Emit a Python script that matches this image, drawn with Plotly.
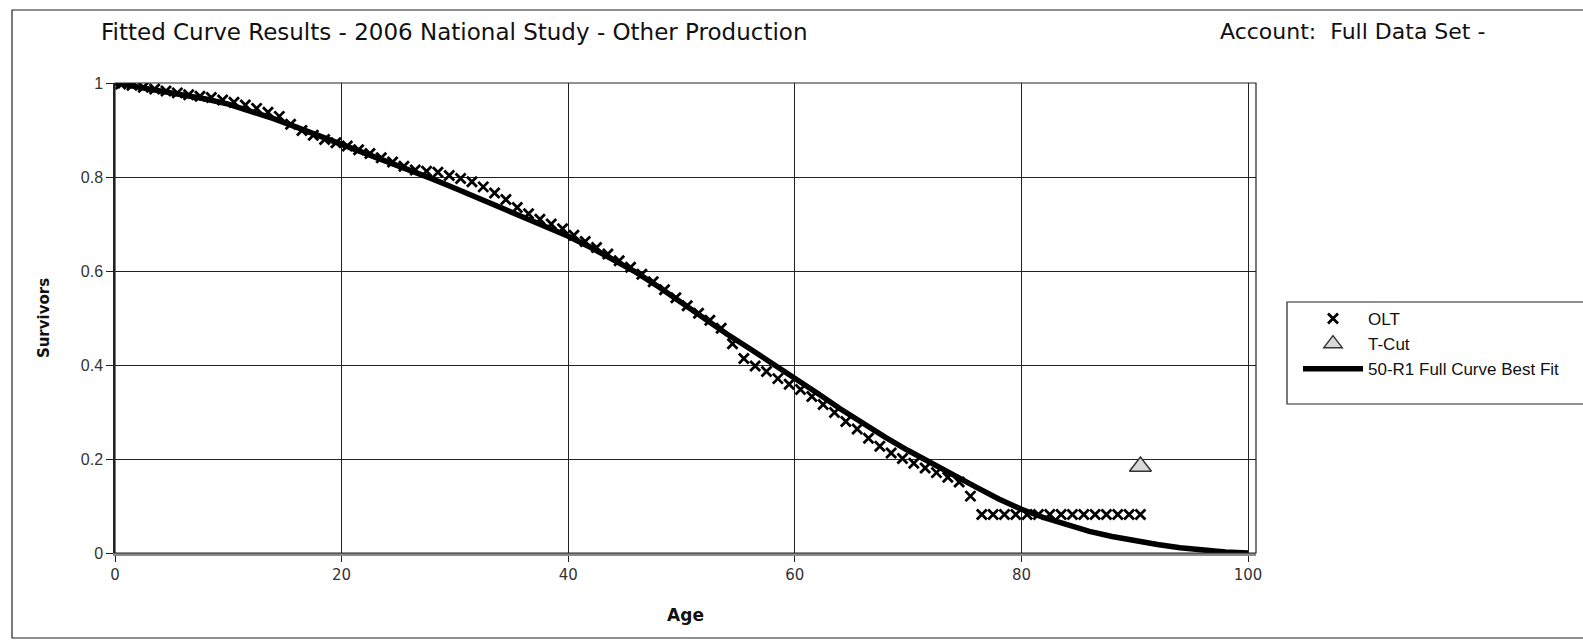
import plotly.graph_objects as go

# ---------------- data ----------------
olt_age = [0, 0.5, 1.5, 2.5, 3.5, 4.5, 5.5, 6.5, 7.5, 8.5, 9.5, 10.5, 11.5, 12.5, 13.5, 14.5,
           15.5, 16.5, 17.5, 18.5, 19.5, 20.5, 21.5, 22.5, 23.5, 24.5, 25.5, 26.5, 27.5, 28.5,
           29.5, 30.5, 31.5, 32.5, 33.5, 34.5, 35.5, 36.5, 37.5, 38.5, 39.5, 40.5, 41.5, 42.5,
           43.5, 44.5, 45.5, 46.5, 47.5, 48.5, 49.5, 50.5, 51.5, 52.5, 53.5, 54.5, 55.5, 56.5,
           57.5, 58.5, 59.5, 60.5, 61.5, 62.5, 63.5, 64.5, 65.5, 66.5, 67.5, 68.5, 69.5, 70.5,
           71.5, 72.5, 73.5, 74.5, 75.5, 76.5, 77.5, 78.5, 79.5, 80.5, 81.5, 82.5, 83.5, 84.5,
           85.5, 86.5, 87.5, 88.5, 89.5, 90.5]
olt_surv = [1.000, 0.998, 0.995, 0.991, 0.987, 0.983, 0.979, 0.975, 0.972, 0.969, 0.964, 0.959,
            0.953, 0.946, 0.938, 0.929, 0.912, 0.899, 0.889, 0.880, 0.873, 0.866, 0.858, 0.850,
            0.841, 0.832, 0.823, 0.815, 0.812, 0.810, 0.803, 0.797, 0.790, 0.779, 0.766, 0.752,
            0.735, 0.722, 0.710, 0.700, 0.690, 0.676, 0.663, 0.650, 0.636, 0.622, 0.608, 0.593,
            0.577, 0.560, 0.543, 0.526, 0.510, 0.495, 0.478, 0.445, 0.414, 0.398, 0.386, 0.371,
            0.359, 0.348, 0.333, 0.316, 0.299, 0.280, 0.264, 0.244, 0.227, 0.213, 0.201, 0.191,
            0.181, 0.171, 0.161, 0.151, 0.121, 0.082, 0.082, 0.082, 0.082, 0.082, 0.082, 0.082,
            0.082, 0.082, 0.082, 0.082, 0.082, 0.082, 0.082, 0.082]

tcut_age = [90.5]
tcut_surv = [0.184]

fit_age = [0, 2, 4, 6, 8, 10, 12, 14, 16, 18, 20, 22, 24, 26, 28, 30, 32, 34, 36, 38, 40, 42,
           44, 46, 48, 50, 52, 54, 56, 58, 60, 62, 64, 66, 68, 70, 72, 74, 76, 78, 80, 82, 84,
           86, 88, 90, 92, 94, 96, 98, 100]
fit_surv = [1.000, 0.992, 0.984, 0.975, 0.966, 0.955, 0.941, 0.924, 0.906, 0.888, 0.870, 0.852,
            0.834, 0.816, 0.796, 0.776, 0.756, 0.736, 0.716, 0.695, 0.674, 0.650, 0.624, 0.597,
            0.566, 0.532, 0.499, 0.466, 0.435, 0.404, 0.372, 0.340, 0.307, 0.276, 0.246, 0.218,
            0.191, 0.165, 0.140, 0.115, 0.093, 0.075, 0.059, 0.046, 0.035, 0.026, 0.018, 0.011,
            0.006, 0.002, 0.000]

x_ticks = [0, 20, 40, 60, 80, 100]
y_ticks = [0, 0.2, 0.4, 0.6, 0.8, 1]
y_tick_text = ["0", "0.2", "0.4", "0.6", "0.8", "1"]

title_text = "Fitted Curve Results - 2006 National Study - Other Production"
account_text = "Account:\u00a0 Full Data Set -"

# ---------------- geometry (page pixels; body margin removed below) ----------------
W, H = 1583, 641
PLOT_L, PLOT_R, PLOT_T, PLOT_B = 115, 1256, 83, 553
L, T = PLOT_L, PLOT_T
R, B = W - PLOT_R, H - PLOT_B
PW, PH = PLOT_R - PLOT_L, PLOT_B - PLOT_T


def px(xp):
    return (xp - PLOT_L) / PW


def py(yp):
    return (PLOT_B - yp) / PH


fig = go.Figure()
fig.add_trace(go.Scatter(
    x=olt_age, y=olt_surv, mode="markers", name="OLT",
    marker=dict(symbol="x-thin", size=10, color="black",
                line=dict(width=2.8, color="black")),
))
fig.add_trace(go.Scatter(
    x=tcut_age, y=tcut_surv, mode="markers", name="T-Cut",
    marker=dict(symbol="triangle-up", size=19, color="#d9d9d9",
                line=dict(width=1.5, color="#333333")),
))
fig.add_trace(go.Scatter(
    x=fit_age, y=fit_surv, mode="lines", name="50-R1 Full Curve Best Fit",
    line=dict(color="black", width=5.5),
))

shapes = [
    # outer chart border (runs off the right edge)
    dict(type="rect", xref="paper", yref="paper",
         x0=px(12), x1=px(1600), y0=py(638), y1=py(10),
         line=dict(color="#222222", width=1.2), fillcolor="rgba(0,0,0,0)", layer="below"),
    # plot area border
    dict(type="rect", xref="paper", yref="paper", x0=0, x1=1, y0=0, y1=1,
         line=dict(color="#222222", width=1.2)),
    # legend box (runs off the right edge)
    dict(type="rect", xref="paper", yref="paper",
         x0=px(1287), x1=px(1600), y0=py(404), y1=py(302),
         line=dict(color="#222222", width=1.2), fillcolor="white", layer="below"),
]

annotations = [
    dict(text=title_text, xref="paper", yref="paper", x=px(99), y=py(32),
         xanchor="left", yanchor="middle", showarrow=False,
         font=dict(family="DejaVu Sans", size=23, color="#111111")),
    dict(text=account_text, xref="paper", yref="paper", x=px(1218), y=py(32),
         xanchor="left", yanchor="middle", showarrow=False,
         font=dict(family="DejaVu Sans", size=22, color="#111111")),
]

fig.update_layout(
    width=W, height=H,
    margin=dict(l=L, r=R, t=T, b=B, pad=0),
    paper_bgcolor="white", plot_bgcolor="white",
    showlegend=True,
    legend=dict(x=px(1298), y=py(301), xanchor="left", yanchor="top",
                bgcolor="rgba(0,0,0,0)", borderwidth=0,
                font=dict(family="Liberation Sans, Arial", size=17, color="#111111"),
                itemwidth=60, tracegroupgap=0),
    shapes=shapes,
    annotations=annotations,
    xaxis=dict(range=[0, 100.7], tickvals=x_ticks, ticktext=[str(v) for v in x_ticks],
               showgrid=True, gridcolor="#222222", gridwidth=1,
               showline=True, linecolor="#8a8a8a", linewidth=3,
               ticks="outside", ticklen=6, tickcolor="#222222", tickwidth=1,
               zeroline=False, automargin=False,
               tickfont=dict(family="DejaVu Sans", size=15, color="#333333"),
               title=dict(text="Age", standoff=27,
                          font=dict(family="DejaVu Sans", size=17, color="#111111",
                                    weight="bold"))),
    yaxis=dict(range=[0, 1], tickvals=y_ticks, ticktext=y_tick_text,
               showgrid=True, gridcolor="#222222", gridwidth=1,
               showline=True, linecolor="#222222", linewidth=1.5,
               ticks="outside", ticklen=7, tickcolor="#222222", tickwidth=1,
               zeroline=False, automargin=False,
               tickfont=dict(family="Liberation Sans, Arial", size=16, color="#333333"),
               title=dict(text="Survivors", standoff=28,
                          font=dict(family="DejaVu Sans", size=15, color="#111111",
                                    weight="bold"))),
)

fig.write_html(
    "out.html",
    config={"displayModeBar": False},
    post_script="document.body.style.margin='0';"
                "document.documentElement.style.overflow='hidden';"
                "document.body.style.overflow='hidden';",
)
